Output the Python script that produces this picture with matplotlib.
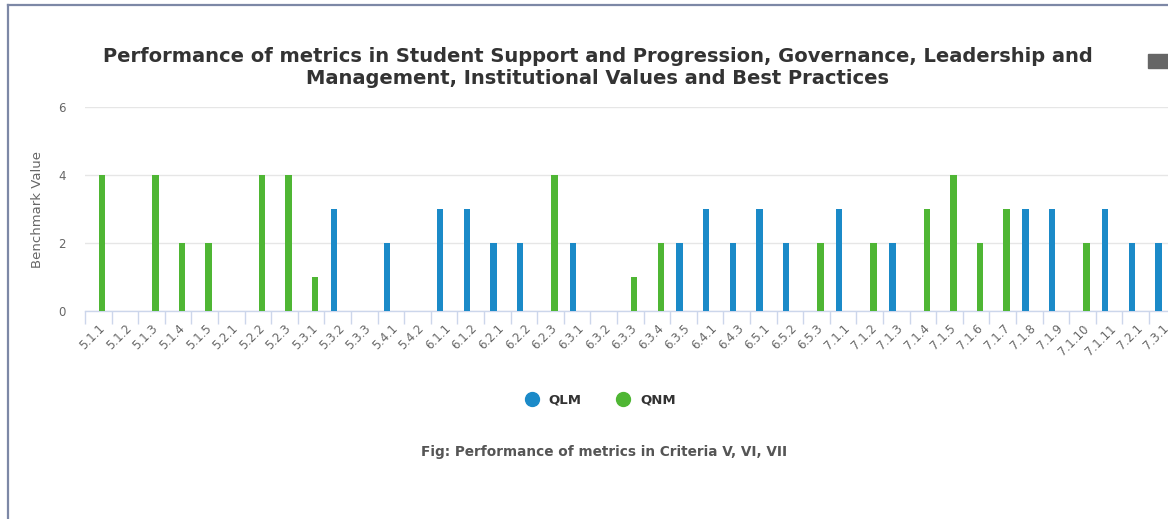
import numpy as np
import matplotlib as mpl
mpl.use('Agg')
import matplotlib.pyplot as plt
from matplotlib.lines import Line2D
from matplotlib.patches import Rectangle

# metric codes (x categories)
metrics = ['5.1.1', '5.1.2', '5.1.3', '5.1.4', '5.1.5', '5.2.1', '5.2.2', '5.2.3',
           '5.3.1', '5.3.2', '5.3.3', '5.4.1', '5.4.2', '6.1.1', '6.1.2', '6.2.1',
           '6.2.2', '6.2.3', '6.3.1', '6.3.2', '6.3.3', '6.3.4', '6.3.5', '6.4.1',
           '6.4.3', '6.5.1', '6.5.2', '6.5.3', '7.1.1', '7.1.2', '7.1.3', '7.1.4',
           '7.1.5', '7.1.6', '7.1.7', '7.1.8', '7.1.9', '7.1.10', '7.1.11', '7.2.1',
           '7.3.1']

# benchmark values, 0 = no bar for that series
qlm = [0, 0, 0, 0, 0, 0, 0, 0, 0, 3, 0, 2, 0, 3, 3, 2, 2, 0, 2, 0, 0, 0, 2, 3,
       2, 3, 2, 0, 3, 0, 2, 0, 0, 0, 0, 3, 3, 0, 3, 2, 2]
qnm = [4, 0, 4, 2, 2, 0, 4, 4, 1, 0, 0, 0, 0, 0, 0, 0, 0, 4, 0, 0, 1, 2, 0, 0,
       0, 0, 0, 2, 0, 2, 0, 3, 4, 2, 3, 0, 0, 2, 0, 0, 0]

series_names = ['QLM', 'QNM']
blue = '#1b8ac8'
green = '#4fb634'

W, H = 1168, 519
fig = plt.figure(figsize=(W / 100, H / 100), dpi=100)

# plot area: 0 at y=311px, 6 at y=107px, starts at x=85px, 26.6px per category
left, bottom_px, top_px = 85, 311, 107
cat_w = 26.6
ax = fig.add_axes([left / W, (H - bottom_px) / H,
                   cat_w * len(metrics) / W, (bottom_px - top_px) / H])

x = np.arange(len(metrics))
bw = 0.24
ax.bar(x - 0.15, qlm, width=bw, color=blue, zorder=3)
ax.bar(x + 0.15, qnm, width=bw, color=green, zorder=3)

ax.set_xlim(-0.5, len(metrics) - 0.5)
ax.set_ylim(0, 6)
ax.set_yticks([0, 2, 4, 6])
ax.grid(axis='y', color='#e6e6e6', lw=1, zorder=0)

for s in ['top', 'right', 'left']:
    ax.spines[s].set_visible(False)
ax.spines['bottom'].set_color('#ccd6eb')
ax.spines['bottom'].set_linewidth(1)

ax.set_xticks(x)
ax.set_xticklabels(metrics, rotation=45, ha='right', va='top',
                   rotation_mode='anchor', fontsize=8.5, color='#666666')
ax.set_xticks(np.arange(len(metrics) + 1) - 0.5, minor=True)
ax.tick_params(axis='x', which='major', length=0, pad=8)
ax.tick_params(axis='x', which='minor', length=9, color='#ccd6eb', width=1)
ax.tick_params(axis='y', length=0, labelsize=8.5, labelcolor='#666666', pad=14)

ax.set_ylabel('Benchmark Value', fontsize=9.5, color='#666666', labelpad=10)

fig.text(598 / W, 1 - 67 / H,
         'Performance of metrics in Student Support and Progression, Governance, Leadership and\n'
         'Management, Institutional Values and Best Practices',
         ha='center', va='center', fontsize=14, fontweight='bold', color='#333333',
         linespacing=1.2)

handles = [Line2D([], [], marker='o', ls='', color=blue, markersize=10),
           Line2D([], [], marker='o', ls='', color=green, markersize=10)]
fig.legend(handles, series_names, loc='center', bbox_to_anchor=(597 / W, 1 - 400 / H),
           ncol=2, frameon=False, handletextpad=0.25, columnspacing=2.2,
           prop={'size': 9.5, 'weight': 'bold'}, labelcolor='#333333')

fig.text(604 / W, 1 - 452 / H, 'Fig: Performance of metrics in Criteria V, VI, VII',
         ha='center', va='center', fontsize=9.8, fontweight='bold', color='#555555')

# export button and frame
fig.patches.append(Rectangle((1148 / W, 1 - 68 / H), 22 / W, 14 / H,
                             transform=fig.transFigure, color='#666666'))
fig.lines.append(Line2D([8 / W, 8 / W], [0, 1 - 5 / H], transform=fig.transFigure,
                        color='#7d88a6', lw=1.6))
fig.lines.append(Line2D([8 / W, 1], [1 - 5 / H, 1 - 5 / H], transform=fig.transFigure,
                        color='#7d88a6', lw=1.6))

fig.savefig('out.png', dpi=100)
